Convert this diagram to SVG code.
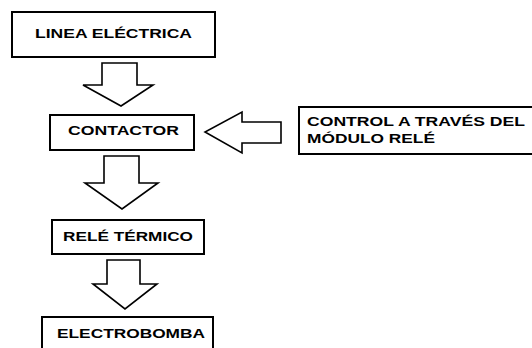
<svg xmlns="http://www.w3.org/2000/svg" width="532" height="348" viewBox="0 0 532 348">
<style>
.box{fill:#fff;stroke:#000;stroke-width:2}
.arr{fill:#fff;stroke:#000;stroke-width:1.6;stroke-linejoin:miter}
.t{font-family:"Liberation Sans",Arial,sans-serif;font-weight:bold;font-size:13.5px;fill:#000}
</style>
<rect width="532" height="348" fill="#fff"/>
<g id="connectors">
<polygon class="arr" points="102,63 137,63 137,85 153,85 121,106 83,85 102,85"/>
<polygon class="arr" points="104,156 139,156 139,183 158,183 122,209 85,183 104,183"/>
<polygon class="arr" points="107,260 140,260 140,284 157,284 125,309 93,284 107,284"/>
<polygon class="arr" points="281,122 281,143 242,143 242,153 205,132 242,112 242,122"/>
</g>
<g id="linea">
<rect class="box" x="12" y="12" width="203" height="45"/>
<text class="t" x="35" y="38" textLength="157" lengthAdjust="spacingAndGlyphs">LINEA ELÉCTRICA</text>
</g>
<g id="contactor">
<rect class="box" x="50" y="115" width="144" height="35"/>
<text class="t" x="68" y="135" textLength="111" lengthAdjust="spacingAndGlyphs">CONTACTOR</text>
</g>
<g id="rele">
<rect class="box" x="52" y="220" width="152" height="34"/>
<text class="t" x="63" y="241" textLength="130" lengthAdjust="spacingAndGlyphs">RELÉ TÉRMICO</text>
</g>
<g id="electrobomba">
<rect class="box" x="42" y="317" width="171" height="40"/>
<text class="t" x="57" y="338" textLength="148" lengthAdjust="spacingAndGlyphs">ELECTROBOMBA</text>
</g>
<g id="control">
<rect class="box" x="299" y="107" width="240" height="47"/>
<text class="t" x="307" y="126" textLength="218" lengthAdjust="spacingAndGlyphs">CONTROL A TRAVÉS DEL</text>
<text class="t" x="307" y="143" textLength="128" lengthAdjust="spacingAndGlyphs">MÓDULO RELÉ</text>
</g>
</svg>
